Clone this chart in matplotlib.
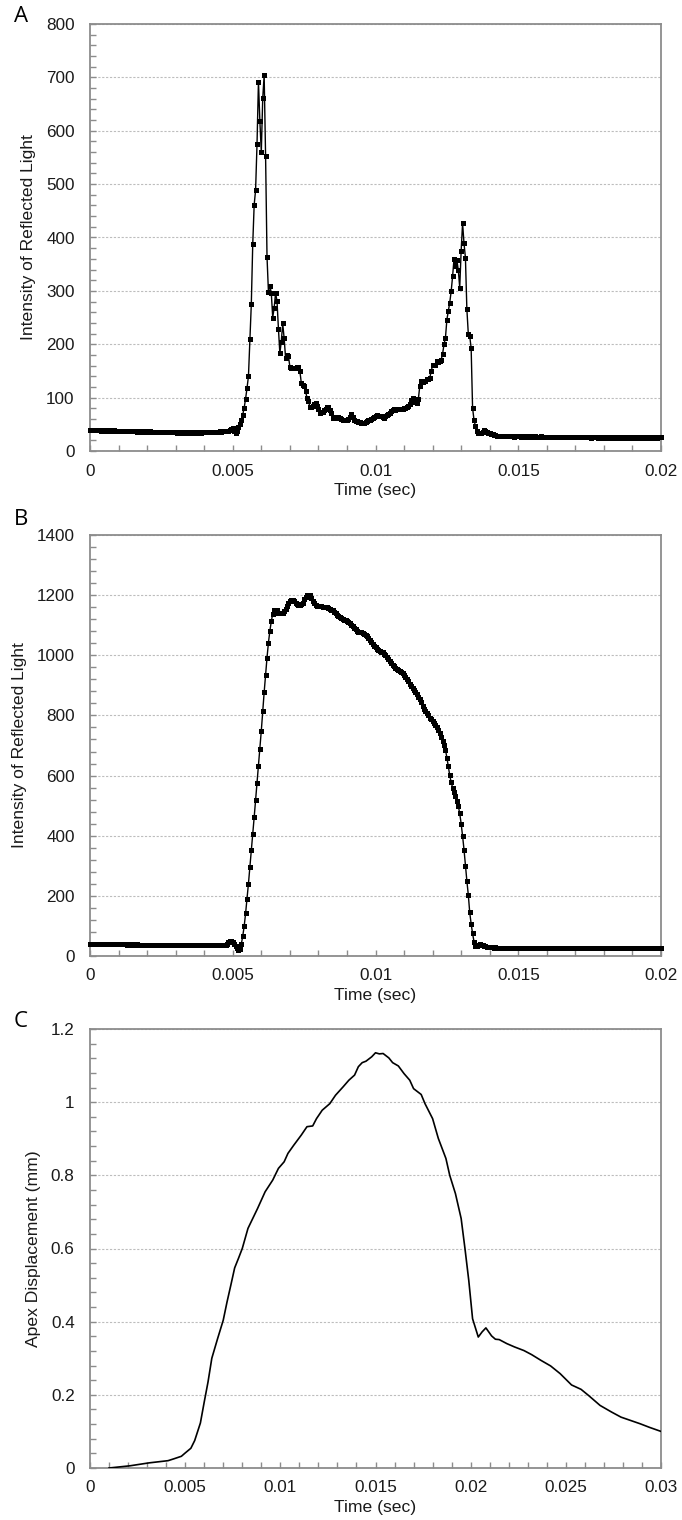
import numpy as np
import matplotlib
matplotlib.use("Agg")
import matplotlib.pyplot as plt
from matplotlib.ticker import FixedLocator, FixedFormatter, MultipleLocator

plt.rcParams['font.family'] = ['Liberation Sans', 'DejaVu Sans']

# ---------------- data ----------------
SAMPLE_DT = 0.00005  # seconds between samples (panels A and B)

a_intensity = [
    40,39,40,39,39,40,39,39,38,39,
    39,38,39,38,39,38,38,39,38,38,
    38,37,38,38,37,38,37,38,37,37,
    38,37,37,36,37,37,36,37,36,37,
    36,36,37,36,36,35,36,36,35,36,
    36,35,35,36,35,35,36,35,35,35,
    35,34,35,35,34,35,35,34,35,34,
    34,35,34,35,35,34,35,35,34,35,
    35,35,36,35,35,36,36,35,36,36,
    36,37,36,37,37,38,38,38,39,42,
    44,38,34,38,45,50,59,68,81,98,
    118,140,210,275,387,461,489,575,692,618,
    560,661,704,553,364,298,310,296,250,268,
    296,281,229,183,205,239,211,175,180,178,
    158,156,155,156,155,157,158,150,128,124,
    122,112,100,94,83,82,84,88,90,84,
    78,72,73,73,76,78,82,83,76,72,
    62,63,62,63,64,62,60,59,58,58,
    59,60,64,69,63,59,57,56,55,54,
    53,53,53,55,56,58,59,60,62,64,
    65,67,66,65,65,63,62,65,68,70,
    72,75,76,78,77,79,78,78,78,79,
    80,81,82,84,88,95,100,93,91,90,
    97,121,131,130,131,132,134,135,137,149,
    161,161,162,168,167,168,171,182,200,212,
    246,262,278,299,327,360,347,358,339,306,
    375,427,389,362,266,220,215,193,81,58,
    47,38,33,34,34,36,39,37,36,34,
    33,31,31,30,30,29,29,29,28,29,
    28,28,29,28,28,28,28,27,28,28,
    28,28,27,28,28,27,28,27,27,28,
    27,27,28,27,27,27,28,27,27,27,
    27,27,27,26,27,27,27,26,27,27,
    26,27,27,26,27,26,26,27,26,27,
    26,26,27,26,26,26,27,26,26,26,
    26,25,26,26,26,26,25,26,26,25,
    26,26,25,26,26,25,26,25,26,26,
    25,26,25,25,26,25,26,25,25,26,
    25,25,26,25,25,26,25,25,25,26,
    25,25,26,25,25,25,26,25,26,26,
    26,
]

b_intensity = [
    40,40,41,40,40,40,41,40,40,40,
    40,39,40,40,39,40,40,39,40,39,
    39,39,40,39,39,39,38,39,39,38,
    39,38,38,39,38,38,38,38,37,38,
    38,37,38,37,37,38,37,37,37,37,
    37,36,37,37,36,37,36,36,37,36,
    36,36,36,35,36,36,35,36,35,36,
    35,35,36,35,35,35,35,36,35,35,
    35,35,35,36,35,35,35,36,35,36,
    35,36,36,35,36,37,40,45,50,51,
    47,40,32,25,21,22,40,66,99,142,
    190,241,295,352,407,461,518,574,631,690,
    749,815,877,936,992,1042,1081,1113,1138,1149,
    1150,1149,1142,1140,1139,1140,1146,1154,1165,1175,
    1181,1183,1183,1181,1174,1169,1167,1167,1170,1175,
    1186,1193,1199,1202,1199,1192,1182,1175,1168,1165,
    1163,1163,1163,1162,1161,1160,1159,1158,1155,1152,
    1149,1144,1139,1134,1130,1126,1123,1121,1119,1116,
    1113,1110,1106,1101,1097,1092,1087,1082,1079,1077,
    1076,1074,1071,1068,1063,1057,1052,1045,1038,1031,
    1026,1022,1018,1015,1012,1010,1005,1000,995,989,
    982,975,969,963,958,954,951,948,944,940,
    935,928,920,913,906,899,892,885,878,871,
    862,853,844,833,822,815,807,800,793,787,
    781,775,768,761,750,740,729,715,700,686,
    660,631,601,578,560,547,533,517,499,474,
    440,399,354,300,250,204,145,107,75,48,
    34,33,38,39,37,35,33,32,30,30,
    29,29,29,28,29,28,28,28,28,27,
    28,28,27,28,27,27,28,27,27,27,
    27,28,27,27,27,27,26,27,27,27,
    27,26,27,27,26,27,27,26,27,26,
    26,27,26,26,27,26,26,26,27,26,
    26,26,26,27,26,26,26,26,26,26,
    26,26,25,26,26,26,26,25,26,26,
    26,25,26,26,26,25,26,26,25,26,
    26,25,26,26,25,26,26,25,26,26,
    25,26,26,25,26,26,25,26,26,25,
    26,26,25,26,26,25,26,26,26,25,
    26,26,25,26,26,26,25,26,26,26,
    26,
]

c_time = [0.0010, 0.0021, 0.0031, 0.0041, 0.0044, 0.0048, 0.0050, 0.0053, 0.0055, 0.0058,
          0.0060, 0.0062, 0.0064, 0.0067, 0.0070, 0.0072, 0.0074, 0.0076, 0.0078, 0.0080,
          0.0083, 0.0088, 0.0092, 0.0096, 0.0099, 0.0102, 0.0104, 0.0107, 0.0111, 0.0114,
          0.0117, 0.0119, 0.0122, 0.0126, 0.0129, 0.0133, 0.0136, 0.0139, 0.0141, 0.0143,
          0.0145, 0.0148, 0.0150, 0.0152, 0.0154, 0.0157, 0.0159, 0.0162, 0.0165, 0.0168,
          0.0170, 0.0174, 0.0176, 0.0180, 0.0183, 0.0187, 0.0189, 0.0192, 0.0195, 0.0197,
          0.0199, 0.0201, 0.0204, 0.0206, 0.0208, 0.0211, 0.0213, 0.0215, 0.0219, 0.0223,
          0.0228, 0.0232, 0.0237, 0.0242, 0.0247, 0.0253, 0.0258, 0.0262, 0.0268, 0.0274,
          0.0279, 0.0284, 0.0289, 0.0294, 0.0300]
c_disp = [0.000, 0.006, 0.014, 0.020, 0.025, 0.032, 0.041, 0.054, 0.075, 0.123,
          0.180, 0.235, 0.300, 0.353, 0.404, 0.454, 0.500, 0.547, 0.573, 0.600,
          0.655, 0.709, 0.755, 0.787, 0.819, 0.837, 0.860, 0.882, 0.910, 0.933,
          0.935, 0.955, 0.978, 0.996, 1.019, 1.042, 1.060, 1.074, 1.097, 1.108,
          1.112, 1.124, 1.135, 1.132, 1.133, 1.121, 1.108, 1.099, 1.078, 1.060,
          1.037, 1.021, 0.996, 0.955, 0.901, 0.846, 0.800, 0.750, 0.682, 0.600,
          0.513, 0.408, 0.358, 0.372, 0.383, 0.361, 0.352, 0.351, 0.340, 0.331,
          0.321, 0.310, 0.294, 0.279, 0.258, 0.227, 0.215, 0.198, 0.171, 0.153,
          0.139, 0.130, 0.121, 0.111, 0.100]

ab_xticks = [0, 0.005, 0.01, 0.015, 0.02]
ab_xlabels = ['0', '0.005', '0.01', '0.015', '0.02']
c_xticks = [0, 0.005, 0.01, 0.015, 0.02, 0.025, 0.03]
c_xlabels = ['0', '0.005', '0.01', '0.015', '0.02', '0.025', '0.03']
a_yticks = [0, 100, 200, 300, 400, 500, 600, 700, 800]
b_yticks = [0, 200, 400, 600, 800, 1000, 1200, 1400]
c_yticks = [0, 0.2, 0.4, 0.6, 0.8, 1.0, 1.2]
c_ylabels = ['0', '0.2', '0.4', '0.6', '0.8', '1', '1.2']

# ---------------- figure ----------------
fig = plt.figure(figsize=(6.82, 15.2), dpi=100)
L, W = 90 / 682, (661 - 90) / 682

def px_rect(top, bottom):
    return [L, 1 - bottom / 1520, W, (bottom - top) / 1520]

SPINE = '#8c8c8c'
TICKFS = 12.3
LABFS = 12.6

def style(ax, xticks, xlabels, xminor, yticks, ylabels, yminor, xlim, ylim, ylabel, ypad):
    ax.set_xlim(*xlim)
    ax.set_ylim(*ylim)
    for s in ax.spines.values():
        s.set_color(SPINE)
        s.set_linewidth(1.3)
    ax.xaxis.set_major_locator(FixedLocator(xticks))
    ax.xaxis.set_major_formatter(FixedFormatter(xlabels))
    ax.xaxis.set_minor_locator(MultipleLocator(xminor))
    ax.yaxis.set_major_locator(FixedLocator(yticks))
    ax.yaxis.set_major_formatter(FixedFormatter(ylabels))
    ax.yaxis.set_minor_locator(MultipleLocator(yminor))
    ax.tick_params(which='both', direction='in', color=SPINE, width=1.0,
                   top=False, right=False)
    ax.tick_params(which='major', length=4)
    ax.tick_params(which='minor', length=4)
    ax.tick_params(axis='y', which='major', pad=ypad, labelsize=TICKFS, labelcolor='#1a1a1a')
    ax.tick_params(axis='x', which='major', pad=9, labelsize=TICKFS, labelcolor='#1a1a1a')
    ax.yaxis.grid(True, which='major', color='#bdbdbd', linestyle=(0, (2, 1.5)), linewidth=0.8)
    ax.set_axisbelow(True)
    ax.set_xlabel('Time (sec)', fontsize=LABFS, color='#1a1a1a', labelpad=3)
    ax.set_ylabel(ylabel, fontsize=LABFS, color='#1a1a1a', labelpad=7)

# Panel A
axA = fig.add_axes(px_rect(24, 451))
tA = np.arange(len(a_intensity)) * SAMPLE_DT
axA.plot(tA, a_intensity, color='black', linewidth=1.0, marker='s', markersize=3.6,
         markeredgewidth=0, clip_on=False, zorder=3)
style(axA, ab_xticks, ab_xlabels, 0.001, a_yticks, [str(v) for v in a_yticks], 20,
      (0, 0.02), (0, 800), 'Intensity of Reflected Light', 11)

# Panel B
axB = fig.add_axes(px_rect(535, 956))
tB = np.arange(len(b_intensity)) * SAMPLE_DT
axB.plot(tB, b_intensity, color='black', linewidth=1.0, marker='s', markersize=3.6,
         markeredgewidth=0, clip_on=False, zorder=3)
style(axB, ab_xticks, ab_xlabels, 0.001, b_yticks, [str(v) for v in b_yticks], 40,
      (0, 0.02), (0, 1400), 'Intensity of Reflected Light', 11)

# Panel C
axC = fig.add_axes(px_rect(1029, 1468))
axC.plot(c_time, c_disp, color='black', linewidth=1.2, zorder=3)
style(axC, c_xticks, c_xlabels, 0.001, c_yticks, c_ylabels, 0.04,
      (0, 0.03), (0, 1.2), 'Apex Displacement (mm)', 11)

# panel letters
for letter, ytop in (('A', 6), ('B', 509), ('C', 1011)):
    fig.text(14 / 682, 1 - ytop / 1520, letter, fontsize=16, va='top', ha='left',
             family=['Open Sans', 'DejaVu Sans'], color='black')

fig.savefig('out.png', dpi=100)
